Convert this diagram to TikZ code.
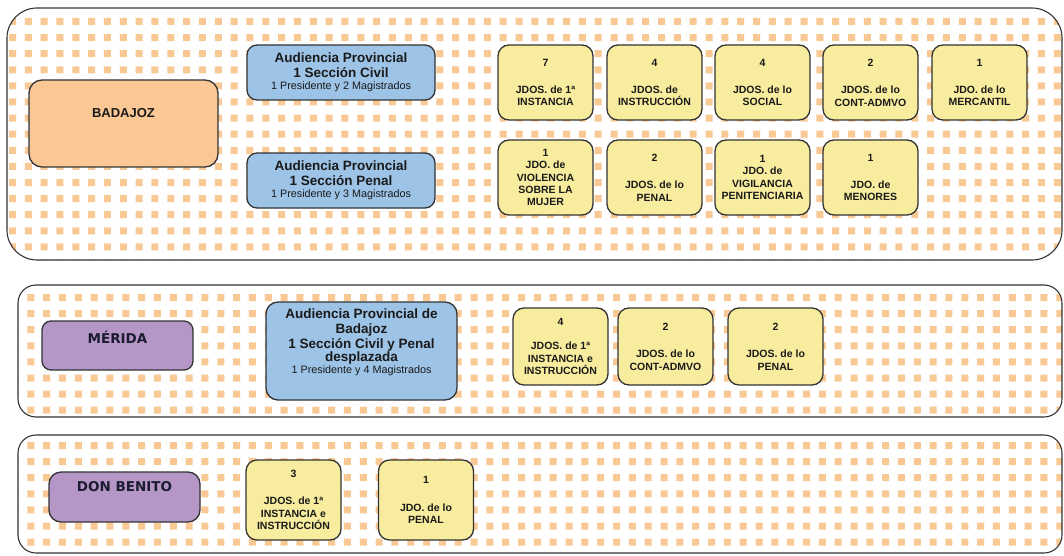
\documentclass[tikz,border=0pt]{standalone}
\usepackage{fontspec}
\setmainfont{Liberation Sans}
\newfontfamily\verdf{DejaVu Sans}
\usetikzlibrary{calc}

\definecolor{edge}{HTML}{333333}
\definecolor{dotc}{HTML}{F9C995}
\definecolor{orangebox}{HTML}{FAC795}
\definecolor{bluebox}{HTML}{9DC3E6}
\definecolor{yellowbox}{HTML}{F8EC9E}
\definecolor{purplebox}{HTML}{B597C7}
\definecolor{txt}{HTML}{1A1A1A}
\definecolor{citytxt}{HTML}{1C1C30}

% fonts
\newcommand\yfont{\fontsize{10.5}{12.4}\selectfont\bfseries}
\newcommand\ttlf{\fontsize{13.5}{15}\selectfont\bfseries}
\newcommand\smlf{\fontsize{10.8}{12}\selectfont\mdseries}

% a rounded frame filled with a grid of small squares
\newcommand\dotframe[8]{%
  \begin{scope}
    \clip[rounded corners=#5] (#1,#2) rectangle (#3,#4);
    \fill[white] (#1,#2) rectangle (#3,#4);
    \fill[dotc] \foreach \i in {0,...,66}{\foreach \j in {0,...,#8}{%
      ({#6+15.83*\i},{#7+16.1*\j}) rectangle ++(7,7)}};
  \end{scope}
  \draw[frameline, rounded corners=#5] (#1,#2) rectangle (#3,#4);
}

\tikzset{
  frameline/.style={draw=edge, line width=1.1pt},
  basebox/.style={draw=edge, line width=1.3pt, inner sep=0pt, anchor=center, text=txt},
  ybox/.style={basebox, fill=yellowbox, rounded corners=11pt,
    minimum width=95pt, minimum height=75pt, align=center, font=\yfont},
  bbox/.style={basebox, fill=bluebox, rounded corners=10pt, align=center, font=\ttlf},
  obox/.style={basebox, fill=orangebox, rounded corners=13pt},
  pbox/.style={basebox, fill=purplebox, rounded corners=9pt},
  cityA/.style={font=\fontsize{13}{15}\selectfont\bfseries, text=txt, inner sep=0pt},
  cityB/.style={font=\verdf\fontsize{13.5}{15}\selectfont\bfseries, text=citytxt, inner sep=0pt},
  btext/.style={align=center, font=\ttlf, text=txt, inner sep=0pt},
}

\begin{document}
\begin{tikzpicture}[x=1pt, y=-1pt]
\useasboundingbox (0,0) rectangle (1064,556);

% the three district frames
\dotframe{7}{8}{1062}{260}{30pt}{9}{18}{15}
\dotframe{18}{285}{1062}{417}{18pt}{11.5}{294}{8}
\dotframe{18}{435}{1062}{553}{18pt}{11.5}{442}{7}

% ---------- BADAJOZ ----------
\node[obox, minimum width=189pt, minimum height=87pt] (bad) at (123.5,123.5) {};
\node[cityA] (badT) at ([yshift=10pt]bad.center) {BADAJOZ};

\node[bbox, minimum width=188pt, minimum height=55pt] (civ) at (341,72.5)
  {Audiencia Provincial\\1 Sección Civil\\[-3pt]\smlf 1 Presidente y 2 Magistrados};
\node[bbox, minimum width=188pt, minimum height=55pt] (pen) at (341,180.5)
  {Audiencia Provincial\\1 Sección Penal\\[-3pt]\smlf 1 Presidente y 3 Magistrados};

\node[ybox] (b11) at (545.5,82.5) {7\\[15pt]JDOS. de 1ª\\INSTANCIA};
\node[ybox] (b12) at (654.5,82.5) {4\\[15pt]JDOS. de\\INSTRUCCIÓN};
\node[ybox] (b13) at (762.5,82.5) {4\\[15pt]JDOS. de lo\\SOCIAL};
\node[ybox] (b14) at (870.5,82.5) {2\\[15pt]JDOS. de lo\\CONT-ADMVO};
\node[ybox] (b15) at (979.5,82.5) {1\\[15pt]JDO. de lo\\MERCANTIL};

\node[ybox] (b21) at (545.5,177.5) {1\\JDO. de\\VIOLENCIA\\SOBRE LA\\MUJER};
\node[ybox] (b22) at (654.5,177.5) {2\\[15pt]JDOS. de lo\\PENAL};
\node[ybox] (b23) at (762.5,177.5) {1\\JDO. de\\VIGILANCIA\\PENITENCIARIA};
\node[ybox] (b24) at (870.5,177.5) {1\\[15pt]JDO. de\\MENORES};

% ---------- MÉRIDA ----------
\node[pbox, minimum width=151pt, minimum height=49pt] (mer) at (117.5,345.5) {};
\node[cityB] (merT) at ([yshift=8pt]mer.center) {MÉRIDA};

\node[basebox, fill=bluebox, rounded corners=12pt, minimum width=191pt, minimum height=98pt]
  (mau) at (361.5,351) {};
\node[btext] (mauT) at ([yshift=9pt]mau.center)
  {Audiencia Provincial de\\Badajoz\\1 Sección Civil y Penal\\[-2pt]desplazada\\[-3pt]\smlf 1 Presidente y 4 Magistrados};

\node[ybox, minimum height=77pt] (m1) at (560.5,346.5) {4\\[12pt]JDOS. de 1ª\\INSTANCIA e\\INSTRUCCIÓN};
\node[ybox, minimum height=77pt] (m2) at (665.5,346.5) {2\\[15pt]JDOS. de lo\\CONT-ADMVO};
\node[ybox, minimum height=77pt] (m3) at (775.5,346.5) {2\\[15pt]JDOS. de lo\\PENAL};

% ---------- DON BENITO ----------
\node[pbox, rounded corners=12pt, minimum width=151pt, minimum height=50pt] (don) at (124.5,497) {};
\node[cityB] (donT) at ([yshift=10pt]don.center) {DON BENITO};

\node[ybox, minimum height=80pt] (d1) at (293.5,500) {3\\[15pt]JDOS. de 1ª\\INSTANCIA e\\INSTRUCCIÓN};
\node[ybox, minimum height=80pt] (d2) at (426,500) {1\\[15pt]JDO. de lo\\PENAL};

\end{tikzpicture}
\end{document}
